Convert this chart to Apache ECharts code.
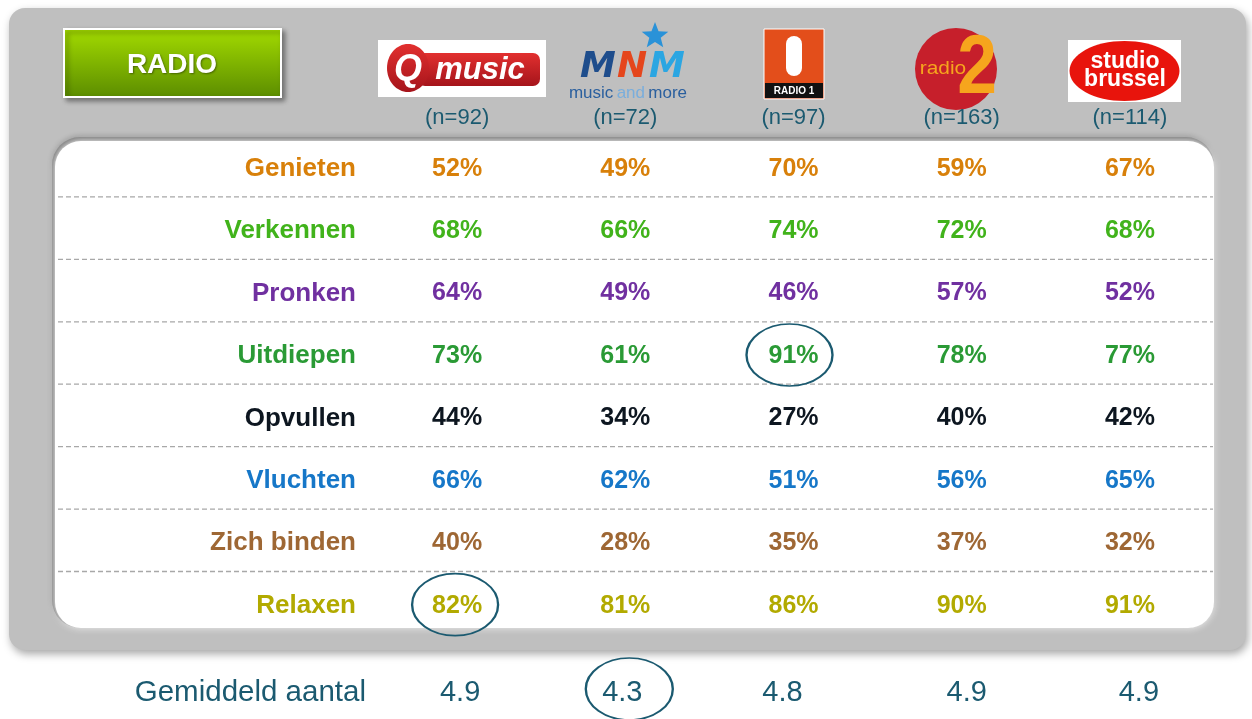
<!DOCTYPE html>
<html>
<head>
<meta charset="utf-8">
<script src="https://cdn.jsdelivr.net/npm/echarts@6/dist/echarts.min.js"></script>
<style>
html,body{margin:0;padding:0;background:#fff;}
#chart{width:1252px;height:719px;}
</style>
</head>
<body>
<div id="chart"></div>
<script>
// ---------- DATA ----------
const stations = ['Qmusic', 'MNM', 'Radio 1', 'Radio 2', 'Studio Brussel'];
const sampleSizes = [92, 72, 97, 163, 114];
const motives = ['Genieten', 'Verkennen', 'Pronken', 'Uitdiepen', 'Opvullen', 'Vluchten', 'Zich binden', 'Relaxen'];
const qmusic = [52, 68, 64, 73, 44, 66, 40, 82];
const mnm = [49, 66, 49, 61, 34, 62, 28, 81];
const radio1 = [70, 74, 46, 91, 27, 51, 35, 86];
const radio2 = [59, 72, 57, 78, 40, 56, 37, 90];
const studioBrussel = [67, 68, 52, 77, 42, 65, 32, 91];
const averageLabel = 'Gemiddeld aantal';
const averageCount = [4.9, 4.3, 4.8, 4.9, 4.9];
const highlightCells = [[0, 7], [2, 3]];   // [station index, motive index]
const highlightAverage = [1];              // station index

// ---------- STYLES ----------
const FONT = '"Liberation Sans", Arial, sans-serif';
const motiveColors = ['#d8800a', '#41b31b', '#7030a0', '#2a9a35', '#0d1620', '#1677c8', '#9e6734', '#b2aa00'];
const teal = '#1b5a70';
const avgShift = [3, -3, -11, 5, 9];
const highlightShift = [[-2, -1], [-4, -1]];

const stationValues = [qmusic, mnm, radio1, radio2, studioBrussel];

const cellData = [];
stationValues.forEach((vals, s) => {
  vals.forEach((v, m) => {
    cellData.push({ value: [s, m, v], label: { color: motiveColors[m] } });
  });
});
const avgData = averageCount.map((v, s) => ({ value: [s, 0, v], label: { offset: [avgShift[s], 0] } }));
const sepData = motives.slice(0, motives.length - 1).map((m, i) => [0, i]);
const highlightData = highlightCells.map((c, i) => ({ value: c, symbolOffset: highlightShift[i] }));

function starPoints(cx, cy, R, r) {
  const pts = [];
  for (let i = 0; i < 10; i++) {
    const a = -Math.PI / 2 + i * Math.PI / 5;
    const rad = i % 2 ? r : R;
    pts.push([cx + rad * Math.cos(a), cy + rad * Math.sin(a)]);
  }
  return pts;
}

const redGrad = () => new echarts.graphic.LinearGradient(0, 0, 0, 1, [{ offset: 0, color: '#e2302f' }, { offset: 1, color: '#a5141b' }]);
const mnmFont = 'italic bold 36px "DejaVu Sans", sans-serif';

const graphics = [
  // outer grey panel
  { type: 'rect', z: -10, shape: { x: 9, y: 8, width: 1237, height: 642, r: 16 },
    style: { fill: '#bfbfbf', shadowBlur: 8, shadowOffsetX: 2, shadowOffsetY: 4, shadowColor: 'rgba(0,0,0,0.35)' } },
  // inner white panel with inset edge
  { type: 'rect', z: -9, shape: { x: 52, y: 137, width: 1162, height: 491, r: 28 },
    style: { fill: '#7d7d7d', shadowBlur: 5, shadowOffsetY: -1, shadowColor: 'rgba(0,0,0,0.25)' } },
  { type: 'rect', z: -8, shape: { x: 55, y: 141, width: 1159, height: 487, r: 26 },
    style: { fill: '#ffffff', shadowBlur: 7, shadowColor: '#ffffff' } },
  // RADIO button
  { type: 'rect', z: -5, shape: { x: 64, y: 29, width: 217, height: 68 },
    style: { fill: new echarts.graphic.LinearGradient(0, 0, 0, 1, [{ offset: 0, color: '#a4dc00' }, { offset: 1, color: '#5b8c00' }]),
      stroke: '#ffffff', lineWidth: 2, shadowBlur: 5, shadowOffsetX: 3, shadowOffsetY: 3, shadowColor: 'rgba(0,0,0,0.4)' } },
  { type: 'text', z: -4, style: { x: 172, y: 65, text: 'RADIO', fill: '#ffffff', font: 'bold 28px ' + FONT,
      align: 'center', verticalAlign: 'middle',
      textShadowBlur: 2, textShadowColor: 'rgba(0,0,0,0.4)', textShadowOffsetX: 1, textShadowOffsetY: 1 } },
  // Qmusic logo
  { type: 'rect', z: -5, shape: { x: 378, y: 40, width: 168, height: 57 }, style: { fill: '#ffffff' } },
  { type: 'rect', z: -4, shape: { x: 418, y: 53, width: 122, height: 33, r: 7 }, style: { fill: redGrad() } },
  { type: 'ellipse', z: -4, shape: { cx: 408, cy: 68, rx: 21, ry: 24 }, style: { fill: redGrad() } },
  { type: 'text', z: -3, style: { x: 408, y: 70, text: 'Q', fill: '#ffffff', font: 'italic bold 36px ' + FONT,
      align: 'center', verticalAlign: 'middle' } },
  { type: 'text', z: -3, style: { x: 480, y: 70, text: 'music', fill: '#ffffff', font: 'italic bold 31px ' + FONT,
      align: 'center', verticalAlign: 'middle' } },
  // MNM logo
  { type: 'polygon', z: -4, shape: { points: starPoints(655, 36, 14, 6) }, style: { fill: '#2a92d8' } },
  { type: 'text', z: -4, style: { x: 598, y: 68, text: 'M', fill: '#1e4d8c', font: mnmFont, align: 'center', verticalAlign: 'middle' } },
  { type: 'text', z: -4, style: { x: 632, y: 68, text: 'N', fill: '#e5461c', font: mnmFont, align: 'center', verticalAlign: 'middle' } },
  { type: 'text', z: -4, style: { x: 667, y: 68, text: 'M', fill: '#2ba6e2', font: mnmFont, align: 'center', verticalAlign: 'middle' } },
  { type: 'text', z: -4, style: { x: 628, y: 93, text: '{a|music} {b|and} {a|more}', align: 'center', verticalAlign: 'middle',
      rich: { a: { fill: '#2a5f9e', font: '17px ' + FONT }, b: { fill: '#7aaedc', font: '17px ' + FONT } } } },
  // Radio 1 logo
  { type: 'rect', z: -5, shape: { x: 764, y: 29, width: 60, height: 70 }, style: { fill: '#e34e1b', stroke: '#ffffff', lineWidth: 1 } },
  { type: 'rect', z: -4, shape: { x: 786, y: 36, width: 16, height: 40, r: 8 }, style: { fill: '#ffffff' } },
  { type: 'rect', z: -4, shape: { x: 765, y: 83, width: 58, height: 15 }, style: { fill: '#111111' } },
  { type: 'text', z: -3, style: { x: 794, y: 91, text: 'RADIO 1', fill: '#ffffff', font: 'bold 10px ' + FONT, align: 'center', verticalAlign: 'middle' } },
  // Radio 2 logo
  { type: 'circle', z: -5, shape: { cx: 956, cy: 69, r: 41 }, style: { fill: '#c61f2b' } },
  { type: 'text', z: -4, x: 943, y: 69, scaleX: 1.1, style: { x: 0, y: 0, text: 'radio', fill: '#f6a51d', font: '19px ' + FONT, align: 'center', verticalAlign: 'middle' } },
  { type: 'text', z: -4, x: 977, y: 70, scaleX: 0.85, style: { x: 0, y: 0, text: '2', fill: '#f6a51d', font: 'bold 84px ' + FONT, align: 'center', verticalAlign: 'middle' } },
  // Studio Brussel logo
  { type: 'rect', z: -5, shape: { x: 1068, y: 40, width: 113, height: 62 }, style: { fill: '#ffffff' } },
  { type: 'ellipse', z: -4, shape: { cx: 1124.5, cy: 71, rx: 55, ry: 30 }, style: { fill: '#e8140c' } },
  { type: 'text', z: -3, style: { x: 1125, y: 62, text: 'studio', fill: '#ffffff', font: 'bold 23px ' + FONT, align: 'center', verticalAlign: 'middle' } },
  { type: 'text', z: -3, style: { x: 1125, y: 80, text: 'brussel', fill: '#ffffff', font: 'bold 23px ' + FONT, align: 'center', verticalAlign: 'middle' } }
];

const chart = echarts.init(document.getElementById('chart'), null, { renderer: 'canvas' });
chart.setOption({
  animation: false,
  backgroundColor: '#ffffff',
  graphic: { elements: graphics },
  grid: [
    { left: 373, right: 38, top: 137.5, height: 499.4 },
    { left: 373, right: 38, top: 667, height: 56 }
  ],
  xAxis: [
    { gridIndex: 0, type: 'category', data: stations, position: 'top', z: 10,
      axisLine: { show: false }, axisTick: { show: false }, splitLine: { show: false },
      axisLabel: { margin: 9, color: teal, fontSize: 22, fontFamily: FONT,
        formatter: (v, i) => '(n=' + sampleSizes[i] + ')' } },
    { gridIndex: 1, type: 'category', data: stations, show: false }
  ],
  yAxis: [
    { gridIndex: 0, type: 'category', data: motives, inverse: true, z: 10,
      axisLine: { show: false }, axisTick: { show: false }, splitLine: { show: false },
      axisLabel: { margin: 17, fontSize: 26, fontWeight: 'bold', fontFamily: FONT,
        color: (v, i) => motiveColors[motives.indexOf(v)] } },
    { gridIndex: 1, type: 'category', data: [averageLabel], z: 10,
      axisLine: { show: false }, axisTick: { show: false }, splitLine: { show: false },
      axisLabel: { margin: 7, fontSize: 29.5, color: teal, fontFamily: FONT } }
  ],
  series: [
    { type: 'custom', xAxisIndex: 0, yAxisIndex: 0, clip: false, silent: true, z: 1,
      data: sepData,
      renderItem: (params, api) => {
        const y = api.coord([0, api.value(1)])[1] + api.size([0, 1])[1] / 2 - 3;
        return { type: 'line', shape: { x1: 58, y1: y, x2: 1213, y2: y },
          style: { stroke: '#a8a8a8', lineWidth: 1.3, lineDash: [5, 3] } };
      } },
    { type: 'scatter', xAxisIndex: 0, yAxisIndex: 0, data: cellData, symbolSize: 1, silent: true,
      itemStyle: { color: 'rgba(0,0,0,0)', opacity: 1 },
      label: { show: true, position: 'inside', fontSize: 25, fontWeight: 'bold', fontFamily: FONT,
        formatter: p => p.value[2] + '%' } },
    { type: 'scatter', xAxisIndex: 1, yAxisIndex: 1, data: avgData, symbolSize: 1, silent: true,
      itemStyle: { color: 'rgba(0,0,0,0)', opacity: 1 },
      label: { show: true, position: 'inside', fontSize: 29, color: teal, fontFamily: FONT,
        formatter: p => p.value[2].toFixed(1) } },
    { type: 'scatter', xAxisIndex: 0, yAxisIndex: 0, data: highlightData, symbol: 'circle', symbolSize: [86, 62], silent: true, z: 3,
      itemStyle: { color: 'rgba(0,0,0,0)', borderColor: teal, borderWidth: 2, opacity: 1 } },
    { type: 'scatter', xAxisIndex: 1, yAxisIndex: 1, data: highlightAverage.map(s => [s, 0]), symbol: 'circle', symbolSize: [87, 62],
      symbolOffset: [4, -4], silent: true, z: 3,
      itemStyle: { color: 'rgba(0,0,0,0)', borderColor: teal, borderWidth: 2, opacity: 1 } }
  ]
});
</script>
</body>
</html>
